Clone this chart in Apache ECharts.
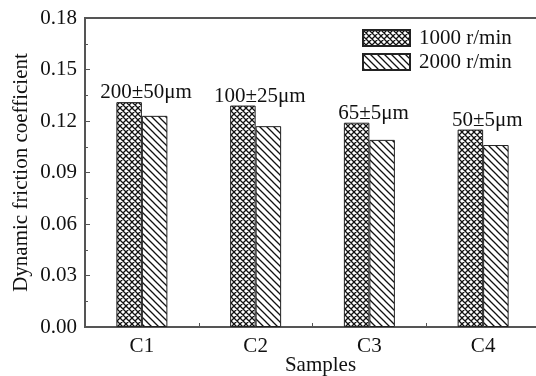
<!DOCTYPE html>
<html>
<head>
<meta charset="utf-8">
<script src="https://cdn.jsdelivr.net/npm/echarts@6/dist/echarts.min.js"></script>
<style>html,body{margin:0;padding:0;background:#fff}#c{width:536px;height:376px}</style>
</head>
<body>
<div id="c"></div>
<script>
const categories = ['C1', 'C2', 'C3', 'C4'];
const series1000 = [0.131, 0.129, 0.119, 0.115];
const series2000 = [0.123, 0.117, 0.109, 0.106];
const sizeLabels = ['200±50μm', '100±25μm', '65±5μm', '50±5μm'];
const seriesNames = ['1000 r/min', '2000 r/min'];
const yTicks = { min: 0, max: 0.18, interval: 0.03 };

function makePattern(cross, s) {
  const cv = document.createElement('canvas');
  cv.width = s; cv.height = s;
  const ctx = cv.getContext('2d');
  ctx.fillStyle = '#fff';
  ctx.fillRect(0, 0, s, s);
  ctx.strokeStyle = '#111';
  ctx.lineWidth = 1.3;
  ctx.beginPath();
  ctx.moveTo(-1, -1); ctx.lineTo(s + 1, s + 1);
  ctx.moveTo(-1, s - 1); ctx.lineTo(1, s + 1);
  ctx.moveTo(s - 1, -1); ctx.lineTo(s + 1, 1);
  if (cross) {
    ctx.moveTo(-1, s + 1); ctx.lineTo(s + 1, -1);
    ctx.moveTo(-1, 1); ctx.lineTo(1, -1);
    ctx.moveTo(s - 1, s + 1); ctx.lineTo(s + 1, s - 1);
  }
  ctx.stroke();
  return { image: cv, repeat: 'repeat' };
}

const font = 'Liberation Serif';
const chart = echarts.init(document.getElementById('c'), null, { renderer: 'canvas' });
chart.setOption({
  animation: false,
  backgroundColor: '#fff',
  textStyle: { fontFamily: font, color: '#111' },
  grid: {
    left: 85, top: 18, right: -4, bottom: 49,
    outerBoundsMode: 'none', containLabel: false,
    show: true, borderColor: '#555', borderWidth: 2
  },
  legend: {
    orient: 'vertical',
    left: 357, top: 22,
    itemWidth: 47, itemHeight: 16, itemGap: 2,
    icon: 'rect',
    textStyle: { fontFamily: font, fontSize: 21, color: '#111', lineHeight: 22, padding: [0, 0, 0, 4] },
    data: seriesNames
  },
  xAxis: {
    type: 'category',
    data: categories,
    name: 'Samples',
    nameLocation: 'middle',
    nameMoveOverlap: false,
    nameGap: 28,
    nameTextStyle: { fontFamily: font, fontSize: 21, color: '#111', padding: [0, 0, 0, 16] },
    axisLine: { lineStyle: { color: '#555', width: 2 } },
    axisTick: { show: true, inside: true, length: 4, lineStyle: { color: '#555' } },
    axisLabel: { fontFamily: font, fontSize: 21, color: '#111', margin: 9 }
  },
  yAxis: {
    type: 'value',
    min: yTicks.min, max: yTicks.max, interval: yTicks.interval,
    name: 'Dynamic friction coefficient',
    nameLocation: 'middle',
    nameMoveOverlap: false,
    nameGap: 53,
    nameTextStyle: { fontFamily: font, fontSize: 21, color: '#111' },
    axisLine: { show: true, lineStyle: { color: '#555', width: 2 } },
    axisTick: { show: true, inside: true, length: 5, lineStyle: { color: '#555' } },
    minorTick: { show: true, splitNumber: 2, length: 3, lineStyle: { color: '#555' } },
    splitLine: { show: false },
    axisLabel: { fontFamily: font, fontSize: 21, color: '#111', margin: 8, formatter: v => v.toFixed(2) }
  },
  series: [
    {
      name: seriesNames[0],
      type: 'bar',
      data: series1000,
      barWidth: 25.5,
      barGap: '0%',
      itemStyle: { color: makePattern(true, 6), borderColor: '#222', borderWidth: 1 },
      label: {
        show: true, position: 'top', distance: 0, offset: [17, 1],
        fontFamily: font, fontSize: 21, color: '#111',
        formatter: p => sizeLabels[p.dataIndex]
      }
    },
    {
      name: seriesNames[1],
      type: 'bar',
      data: series2000,
      barWidth: 25.5,
      barGap: '0%',
      itemStyle: { color: makePattern(false, 7), borderColor: '#222', borderWidth: 1 }
    }
  ]
});
</script>
</body>
</html>
